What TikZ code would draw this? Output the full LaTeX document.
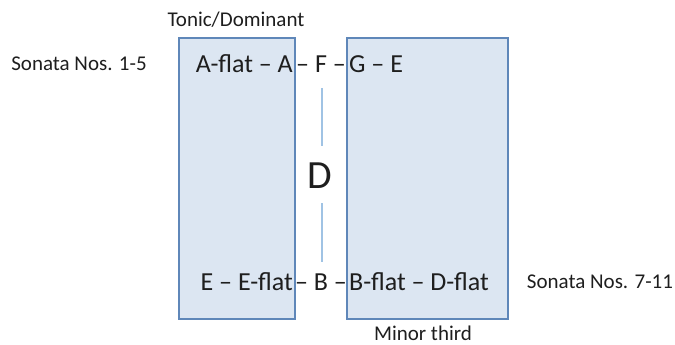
\documentclass[tikz,border=0pt]{standalone}
\usepackage{fontspec}
\setmainfont{Carlito}
\definecolor{boxfill}{RGB}{220,230,242}
\definecolor{boxline}{RGB}{95,135,185}
\definecolor{midline}{RGB}{160,195,228}
\definecolor{txt}{RGB}{30,30,30}
\begin{document}
\begin{tikzpicture}[x=1pt,y=-1pt,
  panel/.style={draw=boxline,line width=1.3pt,fill=boxfill},
  lbl/.style={inner sep=0pt,text=txt,font=\fontsize{21}{24}\selectfont},
  row/.style={inner sep=0pt,text=txt,font=\fontsize{26}{30}\selectfont},
  big/.style={inner sep=0pt,text=txt,font=\fontsize{40}{46}\selectfont},
  vline/.style={draw=midline,line width=1.3pt}]
\useasboundingbox (0,0) rectangle (675,345);
\path[panel] (179,38) rectangle (295,319);
\path[panel] (347,38) rectangle (508,319);
\node (left) at (237,178.5) {};
\node (right) at (427.5,178.5) {};
\coordinate (t1) at (322,88);
\coordinate (t2) at (322,146);
\coordinate (b1) at (322,203);
\coordinate (b2) at (322,262);
\draw[vline] (t1) -- (t2);
\draw[vline] (b1) -- (b2);
\node[lbl] (tonic) at (236,20) {Tonic/Dominant};
\node[lbl] (s15) at (79,64) {Sonata Nos. 1-5};
\node[lbl] (s711) at (600,282) {Sonata Nos. 7-11};
\node[lbl] (minor) at (423,333) {Minor third};
\node[row,anchor=east] (ta) at (293,64) {A-flat – A};
\node[row] (tf) at (321,64) {– F –};
\node[row,anchor=west] (tg) at (349,64) {G – E};
\node[row,anchor=east] (be) at (293,282) {E – E-flat};
\node[row] (bb) at (321,282) {– B –};
\node[row,anchor=west] (bbf) at (349,282) {B-flat – D-flat};
\node[big] (d) at (320,176) {D};
\end{tikzpicture}
\end{document}
